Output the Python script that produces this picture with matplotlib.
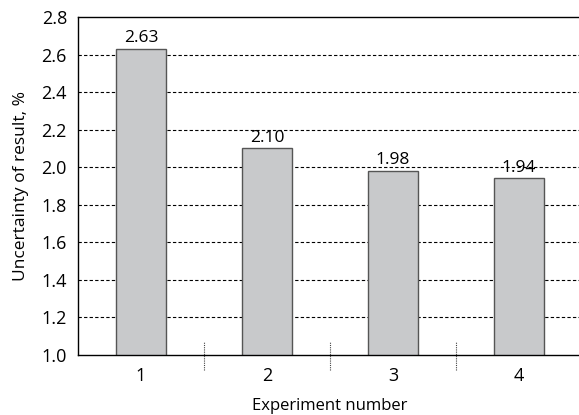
import numpy as np
import matplotlib.pyplot as plt
from matplotlib.transforms import blended_transform_factory

# Data
experiments = [1, 2, 3, 4]
uncertainty = [2.63, 2.10, 1.98, 1.94]
value_labels = ['2.63', '2.10', '1.98', '1.94']
y_ticks = [1.0, 1.2, 1.4, 1.6, 1.8, 2.0, 2.2, 2.4, 2.6, 2.8]

plt.rcParams['font.family'] = ['Open Sans', 'DejaVu Sans']

fig = plt.figure(figsize=(5.79, 4.15), dpi=100)
ax = fig.add_axes([0.1347, 0.1446, 0.8705, 0.8145])

# Dashed grid lines behind the bars
for t in y_ticks[1:-1]:
    ax.axhline(t, color='black', linestyle=(0, (3, 2)), linewidth=0.8, zorder=0)

ax.bar(experiments, uncertainty, width=0.4, color='#c8c9cb',
       edgecolor='#555555', linewidth=1.0, zorder=2)

for x, v, lab in zip(experiments, uncertainty, value_labels):
    ax.text(x, v + 0.015, lab, ha='center', va='bottom', fontsize=12.5)

# Dotted separators between categories
trans = blended_transform_factory(ax.transData, ax.transAxes)
for xs in [1.5, 2.5, 3.5]:
    ax.plot([xs, xs], [-0.044, 0.038], transform=trans, color='#444444',
            linestyle=(0, (1, 1)), linewidth=0.8, clip_on=False, zorder=3)

ax.set_xlim(0.5, 4.5)
ax.set_ylim(1.0, 2.8)
ax.set_xticks(experiments)
ax.set_yticks(y_ticks)
ax.set_yticklabels([f'{t:.1f}' for t in y_ticks])
ax.tick_params(axis='both', length=0, labelsize=13, pad=8)
ax.tick_params(axis='x', pad=9)

for side in ['left', 'bottom', 'top', 'right']:
    ax.spines[side].set_linewidth(1.0)
    ax.spines[side].set_color('black')

ax.set_ylabel('Uncertainty of result, %', fontsize=12.5, labelpad=9)
ax.set_xlabel('Experiment number', fontsize=12, labelpad=9)

fig.savefig('out.png', dpi=100)
